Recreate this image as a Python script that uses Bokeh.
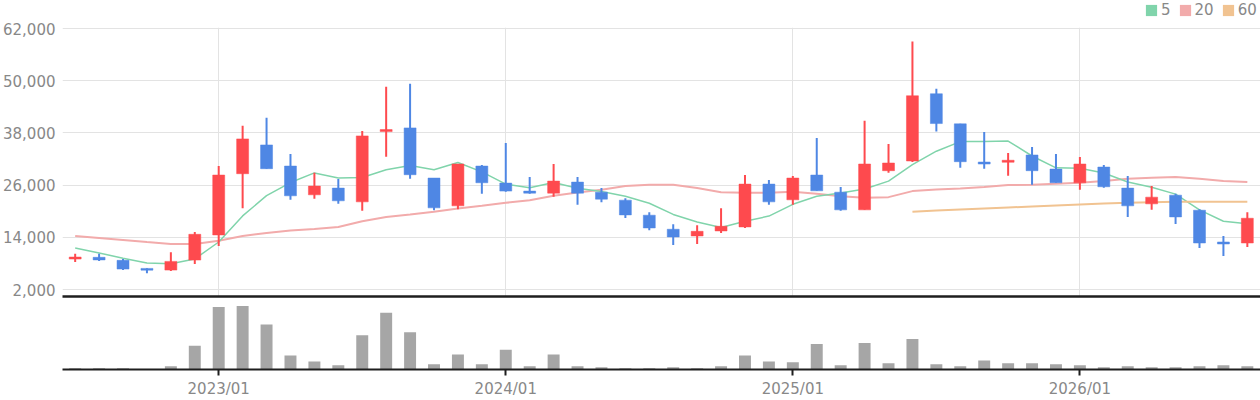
from bokeh.plotting import figure
from bokeh.models import Range1d, FixedTicker, Legend, LegendItem, ColumnDataSource
from bokeh.layouts import column
from bokeh.embed import file_html
from bokeh.resources import INLINE

months = ["2022/07", "2022/08", "2022/09", "2022/10", "2022/11", "2022/12",
          "2023/01", "2023/02", "2023/03", "2023/04", "2023/05", "2023/06",
          "2023/07", "2023/08", "2023/09", "2023/10", "2023/11", "2023/12",
          "2024/01", "2024/02", "2024/03", "2024/04", "2024/05", "2024/06",
          "2024/07", "2024/08", "2024/09", "2024/10", "2024/11", "2024/12",
          "2025/01", "2025/02", "2025/03", "2025/04", "2025/05", "2025/06",
          "2025/07", "2025/08", "2025/09", "2025/10", "2025/11", "2025/12",
          "2026/01", "2026/02", "2026/03", "2026/04", "2026/05", "2026/06",
          "2026/07", "2026/08"]

opens = [9000, 9400, 8700, 6850, 6460, 8770, 14540, 28620, 35230, 30380,
         23770, 25310, 22150, 38300, 39150, 27620, 21230, 30380, 26460, 24620,
         24150, 26690, 24380, 22540, 19080, 15850, 14310, 15460, 16380, 26230,
         22620, 28310, 24380, 20310, 29310, 31540, 47000, 40080, 31300, 31250,
         32920, 29690, 26540, 30150, 25310, 21690, 23690, 20230, 12920, 12690]
closes = [9460, 8800, 6700, 6450, 8460, 14690, 28310, 36620, 29770, 23540,
          25770, 22390, 37310, 38760, 28390, 20770, 30850, 26540, 24620, 24150,
          26920, 24150, 22770, 19150, 16150, 14080, 15380, 16540, 26230, 22150,
          27620, 24690, 20310, 30850, 31080, 46540, 40150, 31380, 30840, 31710,
          29310, 26540, 30850, 25620, 21230, 23230, 18690, 12690, 12460, 18380]
highs = [10200, 10230, 8990, 6900, 10540, 15230, 30380, 39620, 41460, 33150,
         28850, 27380, 38460, 48620, 49310, 27620, 30850, 30620, 35690, 27850,
         30850, 27850, 25310, 23000, 19770, 17000, 16770, 20690, 28310, 27150,
         28080, 36850, 25540, 40770, 35460, 59000, 48150, 40080, 38230, 33380,
         34770, 33150, 32460, 30620, 28080, 25770, 24000, 20460, 14310, 19770]
lows = [8300, 8540, 6460, 5750, 6230, 7840, 12000, 20690, 29770, 22620,
        22850, 21690, 20080, 32530, 27460, 20230, 20460, 24000, 24460, 24000,
        23310, 21460, 22080, 18460, 15620, 12230, 12460, 15000, 16150, 21460,
        21460, 24690, 20080, 20310, 28850, 31310, 38310, 30000, 29770, 28150,
        26080, 26540, 24920, 25380, 18690, 20310, 17080, 11540, 9690, 11770]

volumes = [20000, 20000, 20000, 3000, 50000, 365000, 965000, 980000, 695000, 215000,
           125000, 65000, 530000, 875000, 575000, 80000, 230000, 80000, 305000, 50000,
           230000, 50000, 35000, 20000, 20000, 35000, 20000, 50000, 215000, 125000,
           110000, 395000, 65000, 410000, 95000, 470000, 80000, 50000, 140000, 95000,
           95000, 80000, 65000, 35000, 50000, 35000, 35000, 50000, 65000, 50000]

ma5 = [11540, 10400, 9200, 8070, 7940, 9020, 12920, 18910, 23570, 26590,
       28800, 27620, 27760, 29540, 30510, 29510, 31200, 29050, 26230, 25390,
       26620, 25280, 24520, 23430, 21830, 19260, 17510, 16260, 17680, 18880,
       21580, 23450, 24200, 25120, 26910, 30690, 33790, 36000, 36040, 36130,
       32690, 29970, 29860, 28770, 26710, 25490, 23920, 20290, 17690, 17120]
ma20 = [14310, 13850, 13390, 12920, 12460, 12460, 13230, 14310, 15000, 15540,
        15920, 16380, 17690, 18690, 19230, 19850, 20610, 21230, 21920, 22540,
        23540, 24310, 24920, 25770, 26080, 26080, 25310, 24380, 24230, 24230,
        24460, 24000, 23460, 23080, 23230, 24620, 25000, 25230, 25540, 26000,
        26080, 26310, 26540, 26920, 27460, 27690, 27850, 27460, 26920, 26690]
ma60_start = "2025/06"
ma60 = [19850, 20150, 20380, 20610, 20840, 21080, 21310, 21540, 21770, 21920,
        22080, 22150, 22150, 22150, 22150]

y_ticks = [2000, 14000, 26000, 38000, 50000, 62000]
y_labels = ["2,000", "14,000", "26,000", "38,000", "50,000", "62,000"]
x_tick_labels = ["2023/01", "2024/01", "2025/01", "2026/01"]
legend_labels = ["5", "20", "60"]

UP = "#fe4a4e"
DOWN = "#4f87e4"
C5 = "#80d4ab"
C20 = "#f2abab"
C60 = "#f1c391"
GRID = "#e3e3e3"
LABEL = "#888888"
FONT = "DejaVu Sans"

xs = list(range(len(months)))
tick_pos = [months.index(m) for m in x_tick_labels]
colors = [UP if c >= o else DOWN for o, c in zip(opens, closes)]
src = ColumnDataSource(dict(
    x=xs, high=highs, low=lows,
    top=[max(o, c) for o, c in zip(opens, closes)],
    bottom=[min(o, c) for o, c in zip(opens, closes)],
    color=colors,
))

x_range = Range1d(-0.53, 49.55)

# ---- legend strip -------------------------------------------------------
lf = figure(width=1260, height=19, x_range=Range1d(0, 1), y_range=Range1d(0, 1),
            output_backend="svg", toolbar_location=None, min_border=0,
            x_axis_location=None, y_axis_location=None)
lf.outline_line_color = None
lf.xgrid.visible = False
lf.ygrid.visible = False
swatches = [lf.vbar(x=[5], top=[1], bottom=[0], width=0.5, fill_color=c, line_color=None)
            for c in (C5, C20, C60)]
legend = Legend(items=[LegendItem(label=l, renderers=[r]) for l, r in zip(legend_labels, swatches)],
                orientation="horizontal", location=(1082, 0),
                label_text_font=FONT, label_text_font_size="15px", label_text_color=LABEL,
                glyph_width=14, glyph_height=14, label_standoff=3, spacing=7,
                padding=0, margin=0, border_line_color=None, background_fill_alpha=0,
                label_height=14, label_width=1)
lf.add_layout(legend)

# ---- price panel --------------------------------------------------------
p = figure(width=1260, height=280, x_range=x_range, y_range=Range1d(391, 62230),
           output_backend="svg", toolbar_location=None,
           min_border_left=62, min_border_right=0, min_border_top=8, min_border_bottom=3)
p.outline_line_color = None
p.background_fill_color = "white"
p.xgrid.ticker = FixedTicker(ticks=tick_pos)
p.xgrid.grid_line_color = GRID
p.ygrid.ticker = FixedTicker(ticks=y_ticks)
p.ygrid.grid_line_color = GRID
ya = p.yaxis[0]
ya.ticker = FixedTicker(ticks=y_ticks)
ya.major_label_overrides = {t: l for t, l in zip(y_ticks, y_labels)}
ya.axis_line_color = None
ya.major_tick_line_color = None
ya.minor_tick_line_color = None
ya.major_tick_out = 0
ya.major_tick_in = 0
ya.major_label_text_font = FONT
ya.major_label_text_font_size = "15px"
ya.major_label_text_color = LABEL
ya.major_label_standoff = 7

p.line(xs, ma20, line_color=C20, line_width=2)
p.line(xs, ma5, line_color=C5, line_width=1.5)
s60 = months.index(ma60_start)
p.line(xs[s60:s60 + len(ma60)], ma60, line_color=C60, line_width=2)

p.segment(x0="x", y0="high", x1="x", y1="low", line_color="color", line_width=2, source=src)
p.vbar(x="x", top="top", bottom="bottom", width=0.5, fill_color="color",
       line_color="color", line_width=0.5, source=src)

# separator line between panels: the price panel's bottom axis line
sep = p.xaxis[0]
sep.ticker = FixedTicker(ticks=[])
sep.axis_line_width = 2.5
sep.axis_line_color = "#1e1e1e"
sep.major_tick_out = 0
sep.major_tick_in = 0
sep.minor_tick_out = 0
sep.minor_tick_in = 0
sep.major_label_standoff = 0
sep.major_label_text_font_size = "0px"

# ---- volume panel -------------------------------------------------------
v = figure(width=1260, height=101, x_range=x_range, y_range=Range1d(0, 1080000),
           output_backend="svg", toolbar_location=None,
           min_border_left=62, min_border_right=0, min_border_top=0, min_border_bottom=29)
v.outline_line_color = None
v.xgrid.visible = False
v.ygrid.visible = False
v.yaxis.visible = False
v.vbar(x=xs, top=volumes, width=0.5, fill_color="#a6a6a6", line_color=None)
xa = v.xaxis[0]
xa.ticker = FixedTicker(ticks=tick_pos)
xa.major_label_overrides = {t: l for t, l in zip(tick_pos, x_tick_labels)}
xa.axis_line_width = 2
xa.axis_line_color = "#1e1e1e"
xa.major_tick_line_width = 2
xa.major_tick_line_color = "#1e1e1e"
xa.major_tick_out = 6
xa.major_tick_in = 0
xa.minor_tick_line_color = None
xa.major_label_text_font = FONT
xa.major_label_text_font_size = "15px"
xa.major_label_text_color = LABEL
xa.major_label_standoff = 4

layout = column(lf, p, v, spacing=0)
open("out.html", "w").write(file_html(layout, INLINE))
